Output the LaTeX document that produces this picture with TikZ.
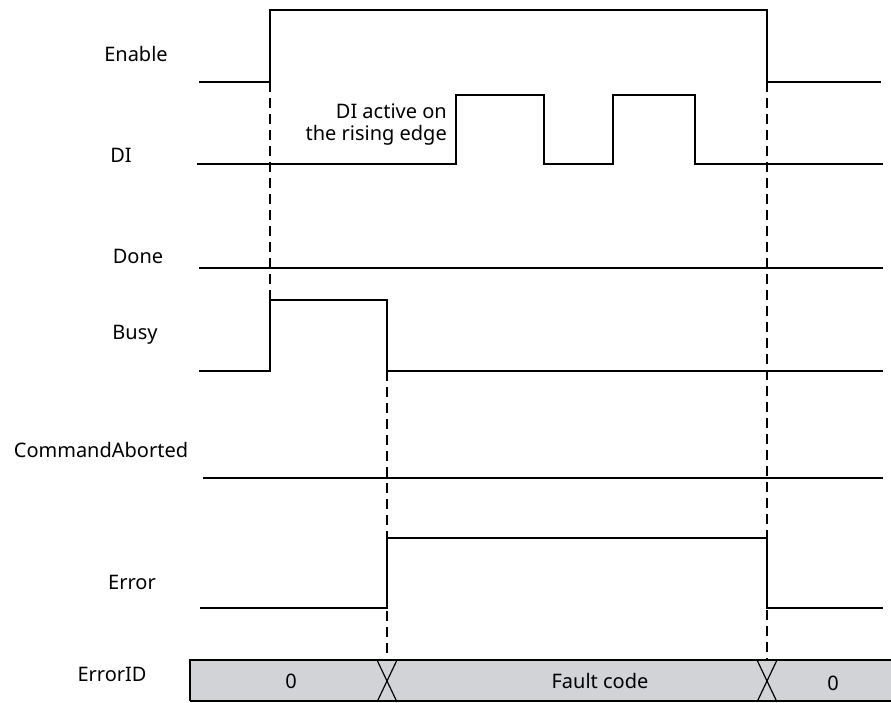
\documentclass[tikz,border=0pt]{standalone}
\usepackage{fontspec}
\setmainfont{Noto Sans}
\usetikzlibrary{positioning}
\definecolor{barfill}{RGB}{210,211,214}
\tikzset{
  sig/.style={line width=2pt},
  guide/.style={line width=1.3pt,dash pattern=on 10pt off 6pt},
  lbl/.style={font=\fontsize{20}{22}\selectfont,inner sep=0pt},
  cross/.style={line width=1.2pt}
}
\begin{document}
\begin{tikzpicture}[x=1pt,y=-1pt]
\useasboundingbox (0,0) rectangle (891,702);
% time marks
\coordinate (t1) at (270,0);
\coordinate (t2) at (387,0);
\coordinate (t3) at (767,0);

% signal names
\node[lbl] (enable) at (136,54) {Enable};
\node[lbl] (di) at (121,155) {DI};
\node[lbl] (done) at (138,256) {Done};
\node[lbl] (busy) at (135,335) {Busy};
\node[lbl] (aborted) at (101,450) {CommandAborted};
\node[lbl] (error) at (132,582) {Error};
\node[lbl] (errorid) at (112,674) {ErrorID};
\node[lbl,align=right,anchor=east] (rising) at (447,125) {DI active on\\the rising edge};

% ErrorID bar
\draw[fill=barfill,line width=1.2pt] (190,701) -- (190,660) -- (891,660);
\fill[barfill] (191,661) rectangle (891,701);
\draw[line width=1.2pt] (190,701) -- (891,701);
\draw[cross] (377,660) -- (397,702) (397,660) -- (377,702);
\draw[cross] (757,660) -- (777,702) (777,660) -- (757,702);
\node[lbl] (val0) at (291,681) {0};
\node[lbl] (fault) at (600,681) {Fault code};
\node[lbl] (val1) at (833,683) {0};

% waveforms
\draw[sig] (199,82) -- (270,82) -- (270,10) -- (767,10) -- (767,82) -- (881,82);
\draw[sig] (197,164) -- (456,164) -- (456,95) -- (544,95) -- (544,164) -- (613,164)
  -- (613,95) -- (695,95) -- (695,164) -- (883,164);
\draw[sig] (199,268) -- (883,268);
\draw[sig] (199,371) -- (270,371) -- (270,300) -- (387,300) -- (387,371) -- (883,371);
\draw[sig] (203,478) -- (883,478);
\draw[sig] (200,608) -- (387,608) -- (387,538) -- (767,538) -- (767,608) -- (883,608);

% guides
\draw[guide] (270,82) -- (270,300);
\draw[guide] (387,371) -- (387,660);
\draw[guide] (767,82) -- (767,660);
\end{tikzpicture}
\end{document}
